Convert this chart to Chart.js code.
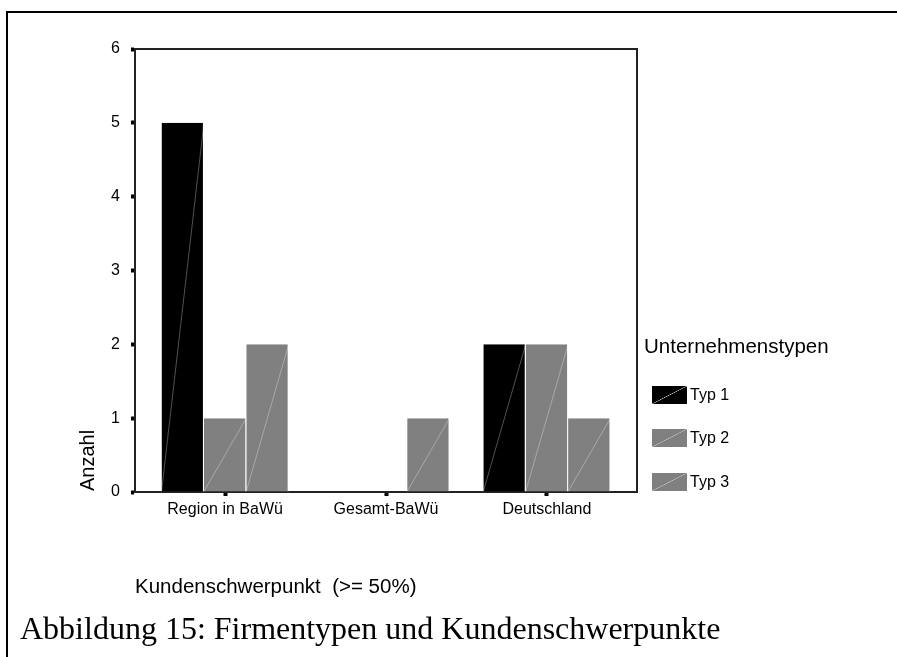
<!DOCTYPE html>
<html>
<head>
<meta charset="utf-8">
<script src="https://cdn.jsdelivr.net/npm/chart.js@4"></script>
<style>
  body { margin: 0; background: #fff; font-family: "Liberation Sans", Arial, sans-serif; }
  #wrap { position: relative; width: 897px; height: 657px; overflow: hidden; }
  #frame { position: absolute; left: 6px; top: 11px; right: -10px; bottom: -10px;
           border-left: 2px solid #000; border-top: 2px solid #000; }
  canvas { position: absolute; left: 0; top: 0; }
  .txt { position: absolute; white-space: nowrap; line-height: 1; color: #000; }
  #ytitle { left: 77px; top: 491px; font-size: 20px; transform: rotate(-90deg); transform-origin: 0 0; }
  #xtitle { left: 135px; top: 576px; font-size: 20.5px; }
  #caption { left: 20px; top: 612px; font-size: 32px; font-family: "Liberation Serif", "Times New Roman", serif; }
  #legtitle { left: 644px; top: 336px; font-size: 20.5px; }
  .item { position: absolute; left: 652px; height: 18px; }
  .swatch { position: absolute; left: 0; top: 0; width: 35px; height: 18px; }
  .item span { position: absolute; left: 38px; top: 1px; font-size: 16px; line-height: 1; white-space: nowrap; }
</style>
</head>
<body>
<div id="wrap">
  <div id="frame"></div>
  <canvas id="chart" width="897" height="657"></canvas>
  <div class="txt" id="ytitle">Anzahl</div>
  <div class="txt" id="xtitle">Kundenschwerpunkt&nbsp;&nbsp;(&gt;= 50%)</div>
  <div class="txt" id="legtitle">Unternehmenstypen</div>
  <div id="legend"></div>
  <div class="txt" id="caption">Abbildung 15: Firmentypen und Kundenschwerpunkte</div>
</div>
<script>
const categories = ["Region in BaWü", "Gesamt-BaWü", "Deutschland"];
const seriesNames = ["Typ 1", "Typ 2", "Typ 3"];
const typ1 = [5, 0, 2];
const typ2 = [1, 0, 2];
const typ3 = [2, 1, 1];
const yTicks = [0, 1, 2, 3, 4, 5, 6];

const colors = ["#000000", "#808080", "#808080"];
const seriesValues = [typ1, typ2, typ3];

// thin light diagonal inside each bar, like the original export
const diagonals = {
  id: "diagonals",
  afterDatasetsDraw(chart) {
    const ctx = chart.ctx;
    ctx.save();
    ctx.strokeStyle = "rgba(255,255,255,0.45)";
    ctx.lineWidth = 0.7;
    chart.data.datasets.forEach((ds, i) => {
      chart.getDatasetMeta(i).data.forEach((bar, j) => {
        if (!ds.data[j]) return;
        const p = bar.getProps(["x", "y", "base", "width"], true);
        ctx.beginPath();
        ctx.moveTo(p.x - p.width / 2, p.base);
        ctx.lineTo(p.x + p.width / 2, p.y);
        ctx.stroke();
      });
    });
    ctx.restore();
  }
};

// top and right edges of the plot box
const plotBox = {
  id: "plotBox",
  afterDraw(chart) {
    const a = chart.chartArea;
    const ctx = chart.ctx;
    ctx.save();
    ctx.strokeStyle = "#222";
    ctx.lineWidth = 2;
    ctx.beginPath();
    ctx.moveTo(a.left, a.top);
    ctx.lineTo(a.right, a.top);
    ctx.lineTo(a.right, a.bottom);
    ctx.stroke();
    ctx.restore();
  }
};

const tickFont = { family: "'Liberation Sans', Arial, sans-serif", size: 16 };

new Chart(document.getElementById("chart"), {
  type: "bar",
  data: {
    labels: categories,
    datasets: seriesNames.map((name, i) => ({
      label: name,
      data: seriesValues[i],
      backgroundColor: colors[i],
      borderColor: "#fff",
      borderWidth: { top: 0, right: 1, bottom: 0, left: 0 },
      borderSkipped: false,
      barPercentage: 1,
      categoryPercentage: 0.79
    }))
  },
  options: {
    responsive: false,
    animation: false,
    layout: { padding: { left: 75, top: 49, right: 260, bottom: 125 } },
    plugins: { legend: { display: false }, tooltip: { enabled: false } },
    scales: {
      x: {
        offset: true,
        grid: { offset: false, drawOnChartArea: false, tickLength: 4, tickWidth: 4, tickColor: "#000" },
        border: { display: true, color: "#222", width: 2 },
        ticks: { font: tickFont, color: "#000", padding: 4, maxRotation: 0 },
        afterBuildTicks: (s) => { s._startValue -= 0.06; s._valueRange += 0.12; },
        afterFit: (s) => { s.height = 40; }
      },
      y: {
        min: yTicks[0],
        max: yTicks[yTicks.length - 1],
        afterBuildTicks: (s) => { s.ticks = yTicks.map((v) => ({ value: v })); },
        grid: { drawOnChartArea: false, tickLength: 4, tickWidth: 4, tickColor: "#000" },
        border: { display: true, color: "#222", width: 2 },
        ticks: { font: tickFont, color: "#000", padding: 11 },
        afterFit: (s) => { s.width = 60; }
      }
    }
  },
  plugins: [diagonals, plotBox]
});

// legend from the same series arrays
const legend = document.getElementById("legend");
const legendTops = [386, 429, 473];
seriesNames.forEach((name, i) => {
  const item = document.createElement("div");
  item.className = "item";
  item.style.top = legendTops[i] + "px";
  const c = colors[i];
  item.innerHTML = `<div class="swatch" style="background: linear-gradient(to bottom right, ${c} calc(50% - 0.6px), rgba(190,190,190,0.9) 50%, ${c} calc(50% + 0.6px))"></div><span>${name}</span>`;
  legend.appendChild(item);
});
</script>
</body>
</html>
